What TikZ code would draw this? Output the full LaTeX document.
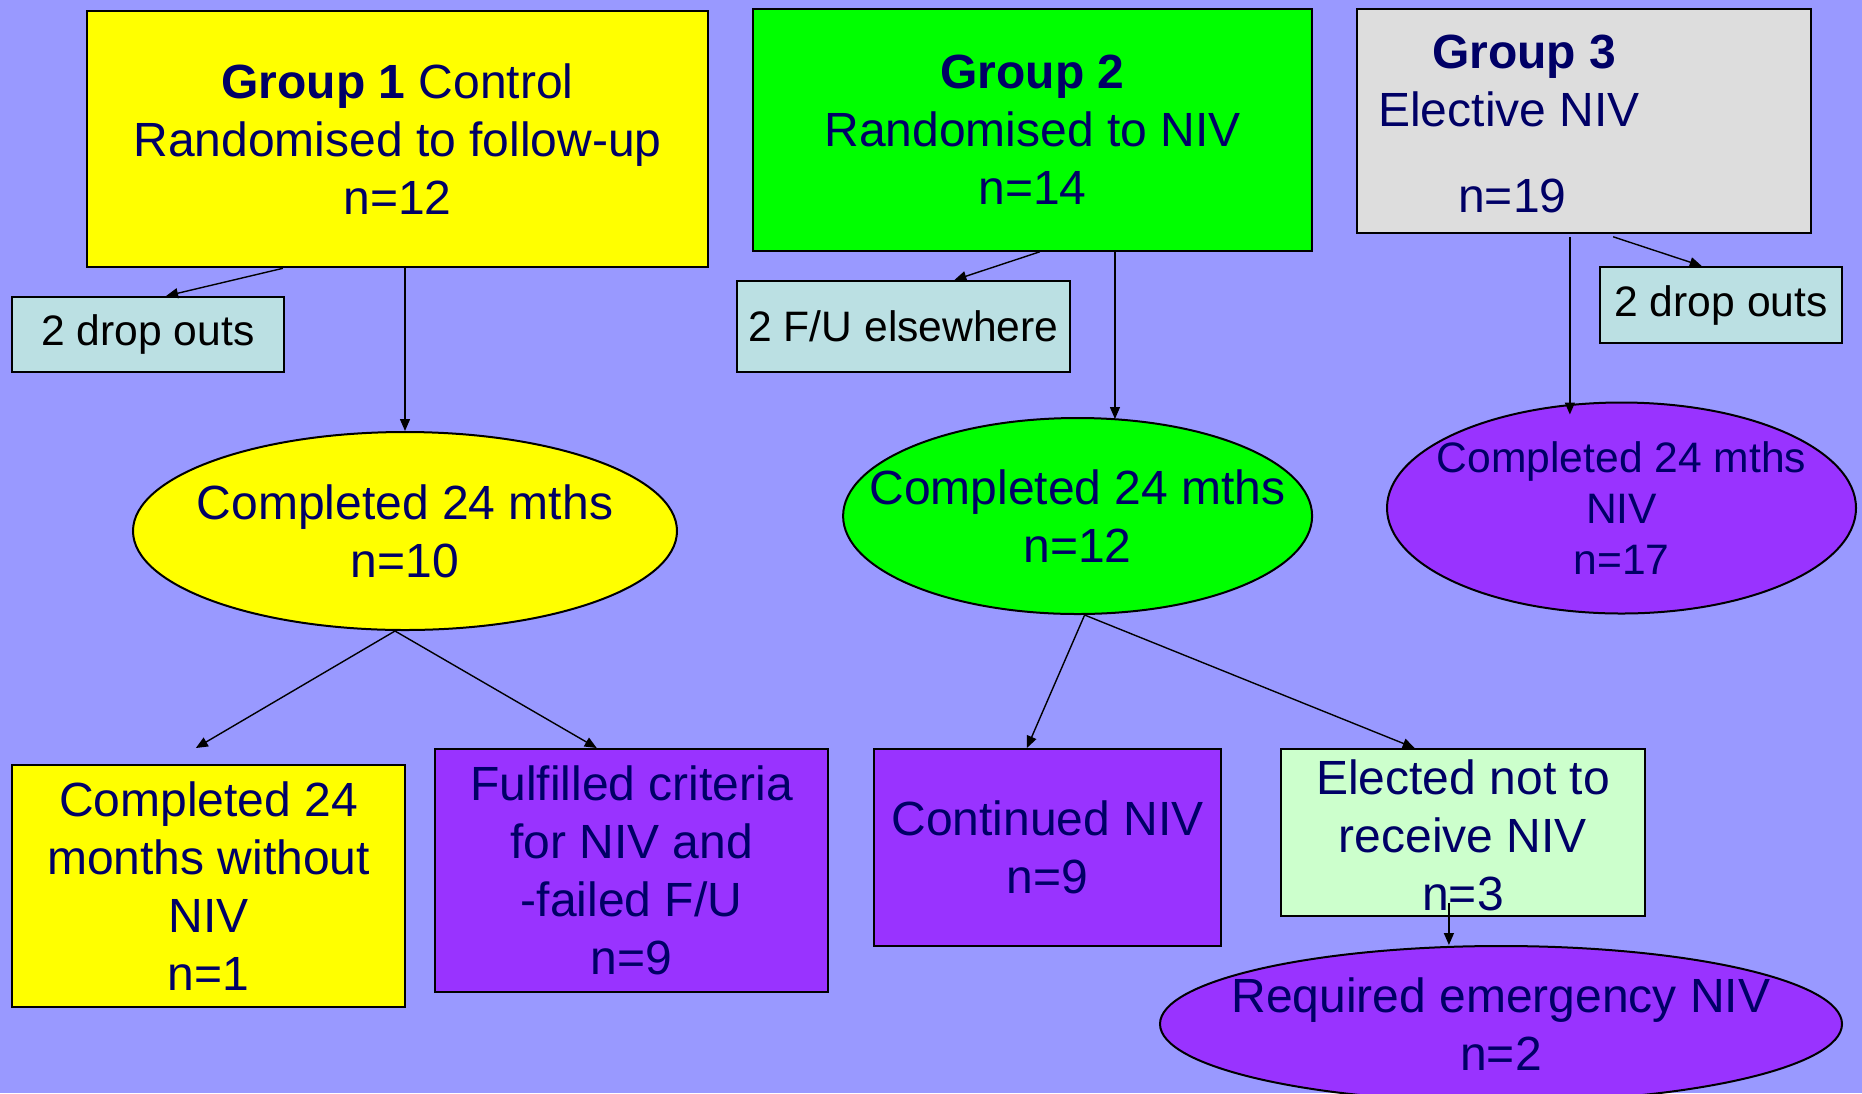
\documentclass[tikz,border=0pt]{standalone}
\usepackage{fontspec}
\setmainfont{Liberation Sans}
\usetikzlibrary{arrows.meta,calc,shapes.geometric}
\definecolor{bgc}{HTML}{9999FF}
\definecolor{yel}{HTML}{FFFF00}
\definecolor{grn}{HTML}{00FF00}
\definecolor{gry}{HTML}{DDDDDD}
\definecolor{cyn}{HTML}{BBE0E3}
\definecolor{pur}{HTML}{9933FF}
\definecolor{lgrn}{HTML}{CCFFCC}
\definecolor{navy}{HTML}{000066}
\begin{document}
\begin{tikzpicture}[x=0.5pt,y=-0.5pt,
  bigfont/.style={font=\fontsize{24}{28.9}\selectfont},
  smallfont/.style={font=\fontsize{21.3}{25.6}\selectfont},
  boxnode/.style={draw=black, line width=1pt, inner sep=0pt, align=center, text=navy, bigfont},
  dropnode/.style={draw=black, line width=1pt, inner sep=0pt, align=center, text=black, smallfont, fill=cyn},
  ellnode/.style={ellipse, draw=black, line width=1pt, inner sep=0pt},
  txt/.style={align=center, text=navy, inner sep=0pt, bigfont},
  arr/.style={-{Triangle[length=6pt,width=5pt]}, line width=0.7pt, draw=black}]
\useasboundingbox (0,0) rectangle (1862,1093);
\fill[bgc] (0,0) rectangle (1862,1093);

% top row
\node[boxnode, fill=yel, minimum width=310.5pt, minimum height=128.3pt] (g1) at (397.5,139)
  {\textbf{Group 1} Control\\Randomised to follow-up\\n=12};
\node[boxnode, fill=grn, minimum width=279.5pt, minimum height=120.8pt] (g2) at (1032.5,130)
  {\textbf{Group 2}\\Randomised to NIV\\n=14};
\node[boxnode, fill=gry, minimum width=227pt, minimum height=111.8pt] (g3) at (1584,121) {};
\node[txt, align=left, anchor=center] (g3t) at (1509,124)
  {\hspace*{27pt}\textbf{Group 3}\\Elective NIV\\[14pt]\hspace*{40pt}n=19};

% drop outs
\node[dropnode, minimum width=136pt, minimum height=37.5pt] (d1) at (148,334.5) {2 drop outs};
\node[dropnode, minimum width=166.5pt, minimum height=45.5pt] (fu) at (903.5,326.5) {2 F/U elsewhere};
\node[dropnode, minimum width=121pt, minimum height=38pt] (d3) at (1721,305) {2 drop outs};

% ellipses
\node[ellnode, fill=yel, minimum width=272pt, minimum height=99pt,
  label={[txt]center:{Completed 24 mths\\n=10}}] (e1) at (405,531) {};
\node[ellnode, fill=grn, minimum width=234.5pt, minimum height=98pt,
  label={[txt]center:{Completed 24 mths\\n=12}}] (e2) at (1077.6,516) {};
\node[ellnode, fill=pur, minimum width=234.5pt, minimum height=105.5pt,
  label={[txt, smallfont]center:{Completed 24 mths\\NIV\\n=17}}] (e3) at (1621.5,508) {};

% bottom row
\node[boxnode, fill=yel, minimum width=196.5pt, minimum height=121pt] (b1) at (208.5,886)
  {Completed 24\\months without\\NIV\\n=1};
\node[boxnode, fill=pur, minimum width=196.5pt, minimum height=121.5pt] (b2) at (631.5,870.5)
  {Fulfilled criteria\\for NIV and\\-failed F/U\\n=9};
\node[boxnode, fill=pur, minimum width=173.5pt, minimum height=98.5pt] (b3) at (1047.5,847.5)
  {Continued NIV\\n=9};
\node[boxnode, fill=lgrn, minimum width=182pt, minimum height=83.5pt,
  label={[txt, yshift=-1.5pt]center:{Elected not to\\receive NIV\\n=3}}] (b4) at (1463,832.5) {};
\node[ellnode, fill=pur, minimum width=341pt, minimum height=78pt,
  label={[txt]center:{Required emergency NIV\\n=2}}] (e4) at (1501,1024) {};

% connectors
\draw[arr] ($(g1.south west)!0.316!(g1.south east)$) -- ($(d1.north west)!0.566!(d1.north east)$);
\draw[arr] (e1.north |- g1.south) -- (e1.north);
\draw[arr] ($(g2.south west)!0.513!(g2.south east)$) -- ($(fu.north west)!0.652!(fu.north east)$);
\coordinate (g2e) at ($(g2.south west)!0.647!(g2.south east)$);
\draw[arr] (g2e) -- ($(g2e |- e2.north)+(0,2)$);
\draw[arr] ($(g3.south west)!0.564!(g3.south east)+(0,3)$) -- ($(d3.north west)!0.421!(d3.north east)$);
\coordinate (g3e) at ($(g3.south west)!0.469!(g3.south east)+(0,3)$);
\draw[arr] (g3e) -- ($(g3e |- e3.north)+(0,13)$);
\draw[arr] ($(e1.south)+(-10,0)$) -- ($(b1.north west)!0.468!(b1.north east)+(0,-16)$);
\draw[arr] ($(e1.south)+(-10,0)$) -- ($(b2.north west)!0.412!(b2.north east)$);
\draw[arr] ($(e2.south)+(7,0)$) -- ($(b3.north west)!0.441!(b3.north east)$);
\draw[arr] ($(e2.south)+(7,0)$) -- ($(b4.north west)!0.368!(b4.north east)$);
\coordinate (b4e) at ($(b4.south west)!0.4615!(b4.south east)+(0,-14)$);
\draw[arr] (b4e) -- (b4e |- e4.north);
\end{tikzpicture}
\end{document}
